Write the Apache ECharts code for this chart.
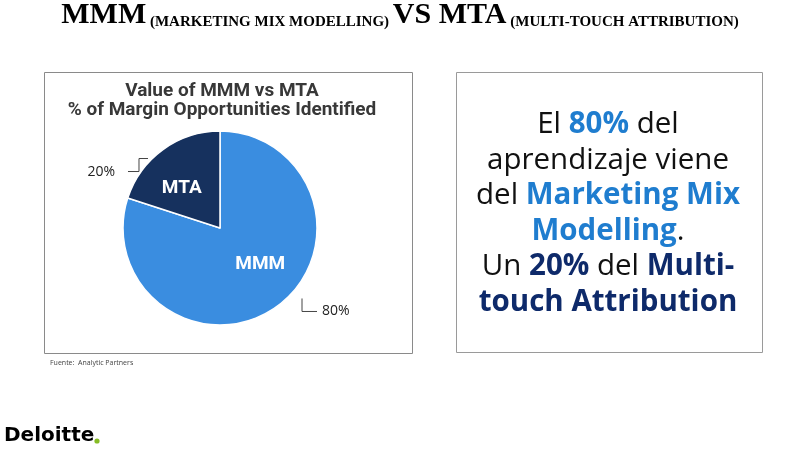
<!DOCTYPE html>
<html><head><meta charset="utf-8">
<script src="https://cdn.jsdelivr.net/npm/echarts@6/dist/echarts.min.js"></script>
<style>html,body{margin:0;padding:0;background:#fff}#c{width:800px;height:450px}</style>
</head><body><div id="c"></div>
<script>
const categories = ['MMM', 'MTA'];
const shares = [80, 20];
const chartTitleLines = ['Value of MMM vs MTA', '% of Margin Opportunities Identified'];
const sourceNote = 'Fuente:  Analytic Partners';

const chart = echarts.init(document.getElementById('c'), null, {renderer: 'canvas'});
const sliceColors = {MMM: '#3a8de0', MTA: '#16315e'};
const pieData = categories.map((c, i) => ({name: c, value: shares[i], itemStyle: {color: sliceColors[c]}}));
const ghostData = categories.map((c, i) => ({name: c, value: shares[i]}));

const option = {
  backgroundColor: '#fff',
  animation: false,
  graphic: [
    {type: 'text', left: 'center', top: 0, style: {
      text: '{b|MMM}{s| (MARKETING MIX MODELLING) }{b|VS MTA}{s| (MULTI-TOUCH ATTRIBUTION)}',
      rich: {
        b: {fontFamily: 'Liberation Serif', fontWeight: 'bold', fontSize: 30, fill: '#000', verticalAlign: 'bottom', lineHeight: 30},
        s: {fontFamily: 'Liberation Serif', fontWeight: 'bold', fontSize: 15, fill: '#000', verticalAlign: 'bottom', lineHeight: 25}
      }
    }},
    {type: 'rect', shape: {x: 44.5, y: 72.5, width: 368, height: 281}, style: {fill: 'none', stroke: '#8a8a8a', lineWidth: 1}},
    {type: 'rect', shape: {x: 456.5, y: 72.5, width: 306, height: 280}, style: {fill: 'none', stroke: '#9a9a9a', lineWidth: 1}},
    {type: 'text', x: 222, y: 91.5, style: {text: chartTitleLines[0], fontFamily: 'Roboto', fontWeight: 'bold', fontSize: 19, fill: '#383838', align: 'center', verticalAlign: 'middle'}},
    {type: 'text', x: 222, y: 110, style: {text: chartTitleLines[1], fontFamily: 'Roboto', fontWeight: 'bold', fontSize: 19, fill: '#383838', align: 'center', verticalAlign: 'middle'}},
    {type: 'text', x: 50, y: 363, style: {text: sourceNote, fontFamily: 'Open Sans', fontSize: 7, fill: '#444', verticalAlign: 'middle'}},
    {type: 'text', x: 608, y: 107, style: {
      text: '{n|El }{a|80%}{n| del}\n{n|aprendizaje viene}\n{n|del }{a|Marketing Mix}\n{a|Modelling}{n|.}\n{n|Un }{d|20%}{n| del }{d|Multi-}\n{d|touch Attribution}',
      align: 'center', verticalAlign: 'top',
      rich: {
        n: {fontFamily: 'Open Sans', fontSize: 29.5, fill: '#111', lineHeight: 35.5},
        a: {fontFamily: 'Open Sans', fontWeight: 'bold', fontSize: 29.5, fill: '#1f7dcf', lineHeight: 35.5},
        d: {fontFamily: 'Open Sans', fontWeight: 'bold', fontSize: 29.5, fill: '#0e2a6a', lineHeight: 35.5}
      }
    }},
    {type: 'text', x: 4, y: 436, style: {text: 'Deloitte', fontFamily: 'DejaVu Sans', fontWeight: 'bold', fontSize: 20, fill: '#000', verticalAlign: 'middle'}},
    {type: 'circle', shape: {cx: 97, cy: 441, r: 2.6}, style: {fill: '#86bc25'}}
  ],
  series: [
    {
      type: 'pie', center: [220, 228], radius: 97, startAngle: 90, clockwise: true,
      silent: true,
      data: pieData,
      itemStyle: {borderColor: '#fff', borderWidth: 1.5},
      label: {show: true, position: 'inside', formatter: '{b}', color: '#fff', fontFamily: 'Roboto', fontWeight: 'bold', fontSize: 19},
      labelLine: {show: false},
      labelLayout: function (p) {
        return p.dataIndex === 0 ? {dx: 10, dy: -5} : {dx: -8, dy: 2};
      }
    },
    {
      type: 'pie', center: [220, 228], radius: 97, startAngle: 90, clockwise: true,
      silent: true, z: 3,
      data: ghostData,
      itemStyle: {color: 'rgba(0,0,0,0)'},
      label: {show: true, position: 'outside', formatter: '{d}%', color: '#222', fontFamily: 'Open Sans', fontSize: 14},
      labelLine: {show: true, length: 8, length2: 10, smooth: false, lineStyle: {color: '#444', width: 1}},
      labelLayout: function (p) {
        const pts = p.labelLinePoints;
        if (!pts) return {};
        const x0 = pts[0][0], y0 = pts[0][1];
        if (p.dataIndex === 1) {
          const sx = x0 - 15, sy = y0 + 9;
          return {x: sx - 33, y: sy + 13, align: 'right', verticalAlign: 'middle',
            labelLinePoints: [[sx, sy], [sx - 9, sy], [sx - 9, sy + 13], [sx - 20, sy + 13]]};
        }
        const sx = x0 + 25, sy = y0 - 8;
        return {x: sx + 20, y: sy + 13, align: 'left', verticalAlign: 'middle',
          labelLinePoints: [[sx, sy], [sx, sy + 13], [sx + 15, sy + 13]]};
      }
    }
  ]
};
chart.setOption(option);
</script>
</body></html>
